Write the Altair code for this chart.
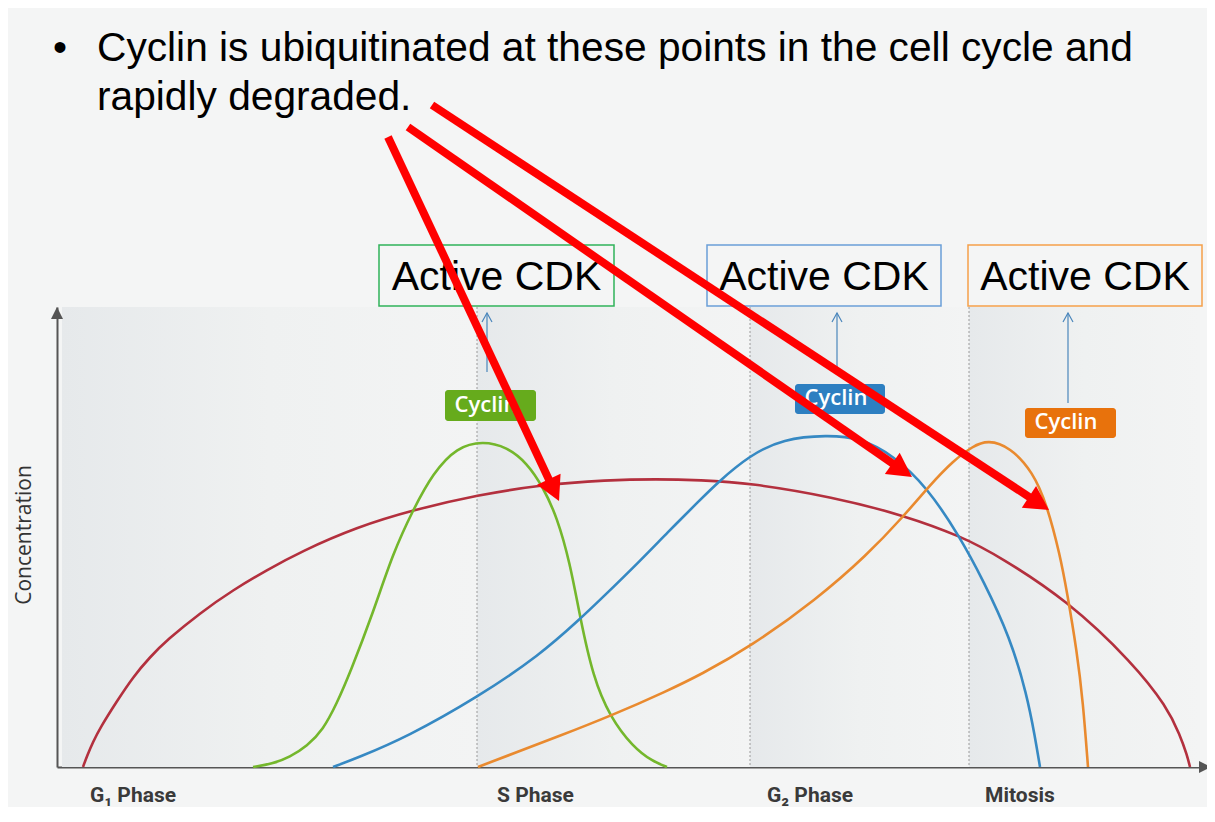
import math
import altair as alt
import pandas as pd

# ---- curve data: time (a.u.) vs concentration (a.u.) ----
red_t = [26, 30, 36, 43, 60, 76, 93, 110, 143, 176, 210, 243, 300, 356, 421, 483, 550, 600, 643, 693, 776, 846, 906, 943, 1010, 1076, 1110, 1123, 1130, 1133]
red_c = [0, 11, 25, 39, 66, 90, 110, 127, 154, 177, 197, 215, 240, 257, 272, 282, 287, 288, 287, 284, 270, 252, 230, 210, 167, 104, 60, 32, 12, 0]

green_t = [196, 215, 233, 250, 266, 280, 293, 316, 336, 356, 376, 400, 426, 450, 470, 486, 500, 513, 523, 536, 553, 576, 595, 610]
green_c = [0, 3, 10, 21, 37, 64, 94, 154, 214, 257, 294, 320, 326, 320, 304, 280, 250, 204, 150, 90, 50, 20, 6, 0]

blue_t = [276, 300, 350, 421, 483, 523, 543, 583, 610, 643, 660, 693, 726, 770, 803, 836, 870, 903, 926, 953, 970, 978, 983]
blue_c = [0, 9, 30, 70, 112, 148, 167, 206, 234, 267, 284, 312, 328, 332, 329, 312, 280, 230, 187, 130, 72, 30, 0]

orange_t = [421, 460, 500, 556, 610, 643, 693, 760, 810, 846, 873, 896, 916, 931, 953, 976, 990, 1003, 1010, 1020, 1026, 1031]
orange_c = [0, 15, 30, 52, 76, 92, 120, 168, 212, 250, 282, 306, 321, 327, 320, 295, 262, 212, 175, 115, 65, 0]

series_names = ["cdk", "g1s", "g2", "mit"]
series_colors = ["#b3303e", "#74b72c", "#3689c3", "#e98a2f"]

# phases
phase_start = [5, 420, 693, 912]
phase_end = [420, 693, 912, 1143]
phase_bounds = [420, 693, 912]
phase_labels = ["G\u2081 Phase", "S Phase", "G\u2082 Phase", "Mitosis"]
phase_label_t = [33, 440, 710, 928]

# Active CDK boxes
cdk_t0 = [322, 650, 911]
cdk_t1 = [557, 884, 1145]
cdk_colors = ["#2fb35a", "#6a9fd8", "#f5a04a"]

# Cyclin labels
cyc_t0 = [388, 738, 968]
cyc_t1 = [479, 828, 1059]
cyc_c0 = [346, 353, 329]
cyc_c1 = [377, 383, 359]
cyc_fill = ["#66ab1c", "#2d7fc1", "#e8720c"]
# thin arrows from cyclin label to CDK box
link_t = [430, 780, 1011]
link_c0 = [395, 399, 364]
link_c1 = [454, 454, 454]

# red arrows (tail -> tip)
arrow_tail_t = [331, 351, 375]
arrow_tail_c = [630, 640, 662]
arrow_tip_t = [502, 855, 992]
arrow_tip_c = [266, 290, 257]

title_lines = ["Cyclin is ubiquitinated at these points in the cell cycle and", "rapidly degraded."]

# ---- build tables ----
curves = pd.concat([
    pd.DataFrame({"t": red_t, "c": red_c, "s": "cdk"}),
    pd.DataFrame({"t": green_t, "c": green_c, "s": "g1s"}),
    pd.DataFrame({"t": blue_t, "c": blue_c, "s": "g2"}),
    pd.DataFrame({"t": orange_t, "c": orange_c, "s": "mit"}),
], ignore_index=True)

xs = alt.Scale(domain=[0, 1150], nice=False, zero=False)
ys = alt.Scale(domain=[0, 460], nice=False, zero=False)

def X(f, **k):
    return alt.X(f, scale=xs, title=None, **k)

def Y(f, **k):
    return alt.Y(f, scale=ys, title=None, **k)

phases = pd.DataFrame({"t0": phase_start, "t1": phase_end, "c0": [0] * 4, "c1": [460] * 4})
grad = alt.Gradient(gradient="linear", x1=0, x2=1, y1=0, y2=0,
                    stops=[alt.GradientStop(color="#e6e9eb", offset=0),
                           alt.GradientStop(color="#eff1f1", offset=0.5),
                           alt.GradientStop(color="#f3f4f4", offset=1)])
bands = alt.Chart(phases).mark_rect(fill=grad).encode(
    x=X("t0:Q"), x2="t1:Q", y=Y("c0:Q"), y2="c1:Q")

bounds = alt.Chart(pd.DataFrame({"t": phase_bounds})).mark_rule(
    color="#9a9a9a", strokeDash=[2, 2], strokeWidth=1).encode(x=X("t:Q"))

lines = alt.Chart(curves).mark_line(interpolate="basis", strokeWidth=2.6).encode(
    x=X("t:Q"), y=Y("c:Q"),
    color=alt.Color("s:N", scale=alt.Scale(domain=series_names, range=series_colors), legend=None),
    detail="s:N")

# y-axis arrowhead and x-axis arrowhead
axis_heads = pd.DataFrame({"t": [0, 1154], "c": [460, 0], "a": [0, 90]})
heads = alt.Chart(axis_heads).mark_point(
    shape="M0,0L-0.5,1L0.5,1Z", filled=True, fill="#555555", size=576, strokeWidth=0, opacity=1
).encode(x=X("t:Q"), y=Y("c:Q"), angle=alt.Angle("a:Q", scale=None))

plabels = alt.Chart(pd.DataFrame({"t": phase_label_t, "c": [-35] * 4, "txt": phase_labels})).mark_text(
    align="left", baseline="alphabetic", fontSize=21, fontWeight="bold",
    font="Liberation Sans Narrow, Roboto, Open Sans", color="#3a3a3a"
).encode(x=X("t:Q"), y=Y("c:Q"), text="txt:N")

conc = alt.Chart(pd.DataFrame({"t": [-32], "c": [232], "txt": ["Concentration"]})).mark_text(
    angle=270, align="center", baseline="middle", fontSize=21, fontWeight=500, font="Open Sans", color="#333333"
).encode(x=X("t:Q"), y=Y("c:Q"), text="txt:N")

# Active CDK boxes
cdk = pd.DataFrame({"t0": cdk_t0, "t1": cdk_t1, "c0": [461] * 3, "c1": [522] * 3,
                    "tm": [(a + b) / 2 for a, b in zip(cdk_t0, cdk_t1)], "cb": [477] * 3,
                    "col": cdk_colors, "txt": ["Active CDK"] * 3})
cdk_box = alt.Chart(cdk).mark_rect(fillOpacity=0, strokeWidth=1.5).encode(
    x=X("t0:Q"), x2="t1:Q", y=Y("c0:Q"), y2="c1:Q",
    stroke=alt.Stroke("col:N", scale=None))
cdk_txt = alt.Chart(cdk).mark_text(
    align="center", baseline="alphabetic", fontSize=41, font="Liberation Sans, Arial", color="#000000"
).encode(x=X("tm:Q"), y=Y("cb:Q"), text="txt:N")

# thin link arrows
links = pd.DataFrame({"t": link_t, "c0": link_c0, "c1": link_c1})
link_lines = alt.Chart(links).mark_rule(color="#4a86bb", strokeWidth=1.2).encode(
    x=X("t:Q"), y=Y("c0:Q"), y2="c1:Q")
link_heads = alt.Chart(links).mark_point(
    shape="M-0.5,0.9L0,0L0.5,0.9", filled=False, stroke="#4a86bb", strokeWidth=1.2, size=400, opacity=1
).encode(x=X("t:Q"), y=Y("c1:Q"))

# Cyclin labels
cyc = pd.DataFrame({"t0": cyc_t0, "t1": cyc_t1, "c0": cyc_c0, "c1": cyc_c1, "col": cyc_fill,
                    "tm": [a + 41 for a in cyc_t0], "cm": [(a + b) / 2 + 1 for a, b in zip(cyc_c0, cyc_c1)],
                    "txt": ["Cyclin"] * 3})
cyc_box = alt.Chart(cyc).mark_rect(cornerRadius=3).encode(
    x=X("t0:Q"), x2="t1:Q", y=Y("c0:Q"), y2="c1:Q", fill=alt.Fill("col:N", scale=None))
cyc_txt = alt.Chart(cyc).mark_text(
    align="center", baseline="middle", fontSize=22, fontWeight=600, font="Open Sans", color="white"
).encode(x=X("tm:Q"), y=Y("cm:Q"), text="txt:N")

# title
title = alt.Chart(pd.DataFrame({"t": [40, 40], "c": [706, 657], "txt": title_lines})).mark_text(
    align="left", baseline="alphabetic", fontSize=40.7, font="Liberation Sans, Arial", color="#000000"
).encode(x=X("t:Q"), y=Y("c:Q"), text="txt:N")
bullet = alt.Chart(pd.DataFrame({"t": [3], "c": [706], "txt": ["\u2022"]})).mark_text(
    align="center", baseline="alphabetic", fontSize=40, font="Liberation Sans, Arial", color="#000000"
).encode(x=X("t:Q"), y=Y("c:Q"), text="txt:N")

# red arrows
rows = []
for a, b, c, d in zip(arrow_tail_t, arrow_tail_c, arrow_tip_t, arrow_tip_c):
    dt, dc = c - a, d - b
    L = math.hypot(dt, dc)
    ang = math.degrees(math.atan2(dt, dc)) % 360
    rows.append({"t0": a, "c0": b, "t1": c - dt / L * 14, "c1": d - dc / L * 14,
                 "tt": c, "tc": d, "ang": ang})
arr = pd.DataFrame(rows)
arr_lines = alt.Chart(arr).mark_rule(color="#ff0000", strokeWidth=8, strokeCap="butt").encode(
    x=X("t0:Q"), y=Y("c0:Q"), x2="t1:Q", y2="c1:Q")
arr_heads = alt.Chart(arr).mark_point(
    shape="M0,0L-0.65,1.2L0.65,1.2Z", filled=True, fill="#ff0000", size=1600, strokeWidth=0, opacity=1
).encode(x=X("tt:Q"), y=Y("tc:Q"), angle=alt.Angle("ang:Q", scale=None))

chart = alt.layer(
    bands, bounds, lines, heads, plabels, conc, cdk_box, cdk_txt, link_lines, link_heads,
    cyc_box, cyc_txt, title, bullet, arr_lines, arr_heads
).properties(
    width=1150, height=460,
    autosize=alt.AutoSizeParams(type="none"),
    padding={"left": 49, "top": 299, "right": 0, "bottom": 40},
    background="#f4f5f5",
).configure_view(stroke=None).configure_axis(
    domain=True, domainColor="#555555", domainWidth=2, ticks=False, labels=False, grid=False
)

chart.save("out.html", embed_options={"renderer": "svg", "actions": False})
